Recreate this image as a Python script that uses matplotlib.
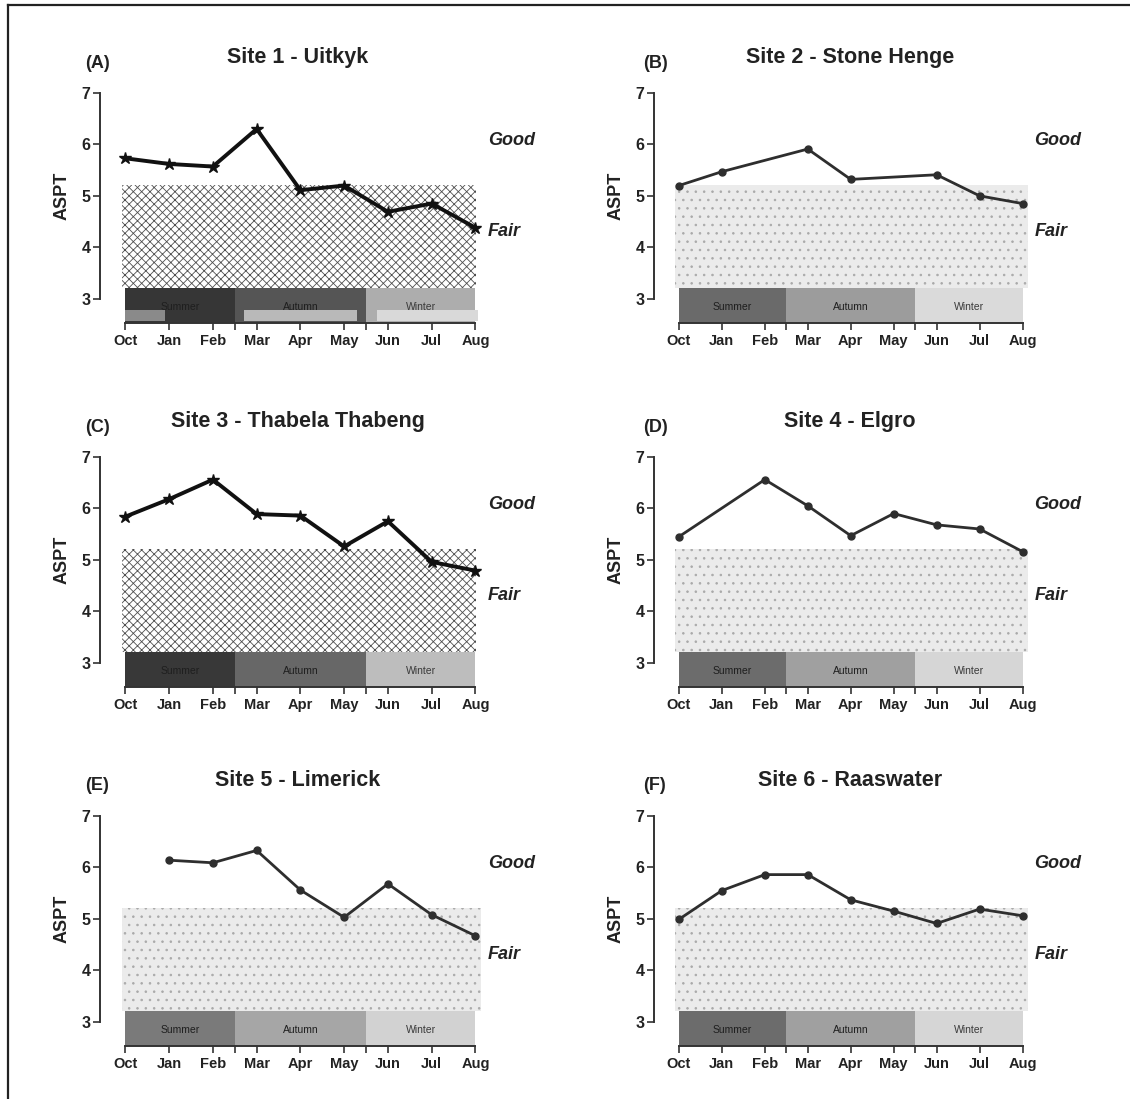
import matplotlib
matplotlib.use("Agg")
import matplotlib.pyplot as plt
from matplotlib.patches import Rectangle
from matplotlib.lines import Line2D
import numpy as np

plt.rcParams['font.family'] = ['Liberation Sans', 'DejaVu Sans']
plt.rcParams['font.weight'] = 'bold'
plt.rcParams['hatch.linewidth'] = 0.6

months = ['Oct', 'Jan', 'Feb', 'Mar', 'Apr', 'May', 'Jun', 'Jul', 'Aug']
panel_tags = ['(A)', '(B)', '(C)', '(D)', '(E)', '(F)']
site_names = ['Site 1 - Uitkyk', 'Site 2 - Stone Henge', 'Site 3 - Thabela Thabeng',
              'Site 4 - Elgro', 'Site 5 - Limerick', 'Site 6 - Raaswater']

# ASPT per month (None = no sample)
site1 = [5.73, 5.62, 5.57, 6.30, 5.11, 5.20, 4.69, 4.85, 4.38]
site2 = [5.20, 5.47, None, 5.91, 5.32, None, 5.41, 5.00, 4.85]
site3 = [5.84, 6.18, 6.56, 5.89, 5.86, 5.26, 5.75, 4.96, 4.79]
site4 = [5.45, None, 6.56, 6.05, 5.47, 5.90, 5.68, 5.60, 5.16]
site5 = [None, 6.14, 6.09, 6.33, 5.56, 5.03, 5.68, 5.08, 4.67]
site6 = [4.99, 5.55, 5.86, 5.86, 5.37, 5.15, 4.91, 5.19, 5.06]
all_sites = [site1, site2, site3, site4, site5, site6]

seasons = ['Summer', 'Autumn', 'Winter']
season_edges = [0, 2.5, 5.5, 8.0]
fair_top = 5.22
season_top = 3.2

# style per panel: dark (A, C) vs light scans
dark_panel = [True, False, True, False, False, False]
season_cols = [
    ['#363636', '#555555', '#adadad'],
    ['#6a6a6a', '#9c9c9c', '#dadada'],
    ['#383838', '#676767', '#bdbdbd'],
    ['#6c6c6c', '#a0a0a0', '#d6d6d6'],
    ['#7a7a7a', '#a6a6a6', '#d2d2d2'],
    ['#6c6c6c', '#a0a0a0', '#d6d6d6'],
]

W, H = 1130, 1099
fig = plt.figure(figsize=(W / 100, H / 100), dpi=100)
fig.patch.set_facecolor('white')

# frame lines (top and left)
fig.add_artist(Line2D([8 / W, 1], [1 - 5 / H, 1 - 5 / H], color='#222222', lw=1.6))
fig.add_artist(Line2D([8 / W, 8 / W], [0, 1 - 5 / H], color='#222222', lw=1.6))

col_left = [100, 654]
col_width = [382, 375]
row_top = [90.4, 454.4, 813.4]
ax_h = 232.5
x = np.arange(len(months))

for i, vals in enumerate(all_sites):
    r, c = i // 2, i % 2
    left, w, top = col_left[c], col_width[c], row_top[r]
    ax = fig.add_axes([left / W, 1 - (top + ax_h) / H, w / W, ax_h / H])
    ax.set_xlim(-0.58, 8.15)
    ax.set_ylim(2.53, 7.05)

    # fair zone
    if dark_panel[i]:
        ax.add_patch(Rectangle((-0.08, season_top), 8.1, fair_top - season_top,
                               facecolor='white', edgecolor='#4f4f4f', hatch='xxxx',
                               lw=0, zorder=1))
    else:
        ax.add_patch(Rectangle((-0.08, season_top), 8.2, fair_top - season_top,
                               facecolor='#ebebeb', edgecolor='#a9a9a9', hatch='..',
                               lw=0, zorder=1))

    # season bars
    for k, s in enumerate(seasons):
        x0, x1 = season_edges[k], season_edges[k + 1]
        ax.add_patch(Rectangle((x0, 2.53), x1 - x0, season_top - 2.53,
                               facecolor=season_cols[i][k], lw=0, zorder=2))
        tcol = '#1e1e1e' if k < 2 else '#3a3a3a'
        ax.text((x0 + x1) / 2, 2.83, s, ha='center', va='center', fontsize=7.5,
                fontweight='normal', color=tcol, zorder=3)
    if i == 0:
        inner = [(0, 0.9, '#8a8a8a'), (2.7, 5.3, '#b9b9b9'), (5.75, 8.05, '#d9d9d9')]
        for x0, x1, col in inner:
            ax.add_patch(Rectangle((x0, 2.56), x1 - x0, 0.22, facecolor=col, lw=0, zorder=2.5))

    # data line
    v = np.array([np.nan if q is None else q for q in vals])
    m = ~np.isnan(v)
    if dark_panel[i]:
        ax.plot(x[m], v[m], color='#111111', lw=2.8, marker='*', ms=9, zorder=5)
    else:
        ax.plot(x[m], v[m], color='#2e2e2e', lw=2.0, marker='o', ms=5, zorder=5)

    # zone labels
    ax.text(8.28, 6.08, 'Good', fontsize=13, fontstyle='italic', va='center',
            ha='left', color='#222222', clip_on=False)
    ax.text(8.28, 4.30, 'Fair', fontsize=13, fontstyle='italic', va='center',
            ha='left', color='#222222', clip_on=False)

    # axes styling
    for sp in ['top', 'right']:
        ax.spines[sp].set_visible(False)
    ax.spines['left'].set_bounds(3, 7)
    ax.spines['bottom'].set_bounds(0, 8)
    for sp in ['left', 'bottom']:
        ax.spines[sp].set_color('#333333')
        ax.spines[sp].set_linewidth(1.4)
    ax.set_yticks([3, 4, 5, 6, 7])
    ax.set_xticks(x)
    ax.set_xticklabels(months)
    ax.set_xticks([2.5, 5.5], minor=True)
    ax.tick_params(axis='both', direction='out', length=5, width=1.2, color='#333333',
                   labelcolor='#222222')
    ax.tick_params(axis='x', labelsize=10.5, pad=3)
    ax.tick_params(axis='y', labelsize=11.5, pad=2)
    ax.tick_params(axis='x', which='minor', length=5, width=1.2, color='#333333')
    ax.patch.set_alpha(0)

    # titles
    yt = top + 2.6 - 35
    tag_x = [97, 655][c]
    title_x = [298, 850][c]
    fig.text(tag_x / W, 1 - (yt + 5) / H, panel_tags[i], ha='center', va='center',
             fontsize=13, color='#222222')
    fig.text(title_x / W, 1 - yt / H, site_names[i], ha='center', va='center',
             fontsize=15.5, color='#222222')
    fig.text((left - 38) / W, 1 - (top + 105) / H, 'ASPT', rotation=90, ha='center',
             va='center', fontsize=13, color='#222222')

fig.savefig('out.png', dpi=100)
